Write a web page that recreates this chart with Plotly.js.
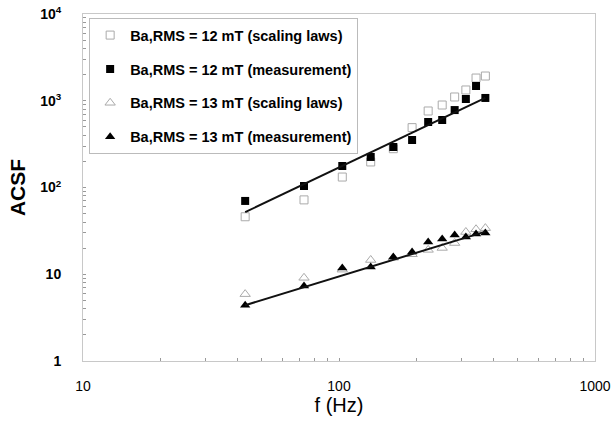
<!DOCTYPE html>
<html>
<head>
<meta charset="utf-8">
<script src="https://cdn.plot.ly/plotly-3.0.1.min.js"></script>
<style>html,body{margin:0;padding:0;background:#fff;}#chart{width:613px;height:425px;}</style>
</head>
<body>
<div id="chart"></div>
<script>
// Data
const freq = [43, 73, 103, 133, 163, 193, 223, 253, 283, 313, 343, 373];
const scaling12 = [46, 72, 132, 197, 280, 490, 762, 893, 1105, 1331, 1827, 1928];
const meas12 = [70, 104, 177, 225, 293, 353, 569, 600, 781, 1047, 1479, 1077];
const scaling13 = [5.9, 9.1, 11.3, 14.6, 15.5, 17.0, 19.1, 20.1, 22.9, 30.7, 33.0, 34.0];
const meas13 = [4.4, 7.3, 11.8, 12.1, 15.8, 18.0, 23.6, 25.5, 28.3, 26.9, 29.1, 29.9];
const fitFreq = [43, 373];
const fit12 = [52, 1080];
const fit13 = [4.4, 31];
const names = [
  "Ba,RMS = 12 mT (scaling laws)",
  "Ba,RMS = 12 mT (measurement)",
  "Ba,RMS = 13 mT (scaling laws)",
  "Ba,RMS = 13 mT (measurement)"
];
const xTickVals = [10, 100, 1000];
const xTickText = ["10", "100", "1000"];
const yTickVals = [1, 10, 100, 1000, 10000];
const yTickText = ["1", "10", "10<sup>2</sup>", "10<sup>3</sup>", "10<sup>4</sup>"];

function minorVals(lo, hi) {
  const v = [];
  for (let d = lo; d < hi; d++) for (let k = 2; k <= 9; k++) v.push(k * Math.pow(10, d));
  return v;
}

const traces = [
  {x: freq, y: scaling12, name: names[0], mode: 'markers', legendgroup: 'a',
   marker: {symbol: 'square-open', size: 8, color: '#aaaaaa', line: {width: 1, color: '#aaaaaa'}}},
  {x: freq, y: meas12, name: names[1], mode: 'markers', legendgroup: 'b',
   marker: {symbol: 'square', size: 8, color: '#000000'}},
  {x: freq, y: scaling13, name: names[2], mode: 'markers', legendgroup: 'c',
   marker: {symbol: 'triangle-up-open', size: 9, color: '#aaaaaa', line: {width: 1, color: '#aaaaaa'}}},
  {x: freq, y: meas13, name: names[3], mode: 'markers', legendgroup: 'd',
   marker: {symbol: 'triangle-up', size: 9, color: '#000000'}},
  {x: fitFreq, y: fit12, mode: 'lines', showlegend: false, line: {color: '#111', width: 2}, legendgroup: 'd'},
  {x: fitFreq, y: fit13, mode: 'lines', showlegend: false, line: {color: '#111', width: 2}, legendgroup: 'd'}
];

const layout = {
  width: 613, height: 425,
  margin: {l: 83, r: 18, t: 14, b: 64},
  paper_bgcolor: '#fff', plot_bgcolor: '#fff',
  font: {family: 'Liberation Sans, Arial, sans-serif', color: '#000'},
  showlegend: true,
  legend: {
    x: 0.012, y: 0.988, xanchor: 'left', yanchor: 'top',
    bgcolor: '#fff', bordercolor: '#bbbbbb', borderwidth: 1,
    font: {size: 14.5, family: 'Liberation Sans, Arial, sans-serif', weight: 'bold'},
    traceorder: 'grouped', tracegroupgap: 12
  },
  xaxis: {
    type: 'log', range: [1, 3], tickmode: 'array', tickvals: xTickVals, ticktext: xTickText,
    showgrid: false, zeroline: false, showline: true, linecolor: '#c8c8c8', linewidth: 1, mirror: true,
    ticks: 'inside', ticklen: 3, tickcolor: '#999',
    minor: {tickvals: minorVals(1, 3), ticks: 'inside', ticklen: 3, tickcolor: '#999', showgrid: false},
    tickfont: {size: 14}, ticklabelstandoff: 12,
    title: {text: 'f (Hz)', font: {size: 20}, standoff: 4}
  },
  yaxis: {
    type: 'log', range: [0, 4], tickmode: 'array', tickvals: yTickVals, ticktext: yTickText,
    showgrid: false, zeroline: false, showline: true, linecolor: '#c8c8c8', linewidth: 1, mirror: true,
    ticks: 'inside', ticklen: 3, tickcolor: '#999',
    minor: {tickvals: minorVals(0, 4), ticks: 'inside', ticklen: 3, tickcolor: '#999', showgrid: false},
    tickfont: {size: 14, weight: 'bold'}, ticklabelstandoff: 18,
    title: {text: 'ACSF', font: {size: 21, weight: 'bold'}, standoff: 8}
  }
};

Plotly.newPlot('chart', traces, layout, {displayModeBar: false, staticPlot: true});
</script>
</body>
</html>
